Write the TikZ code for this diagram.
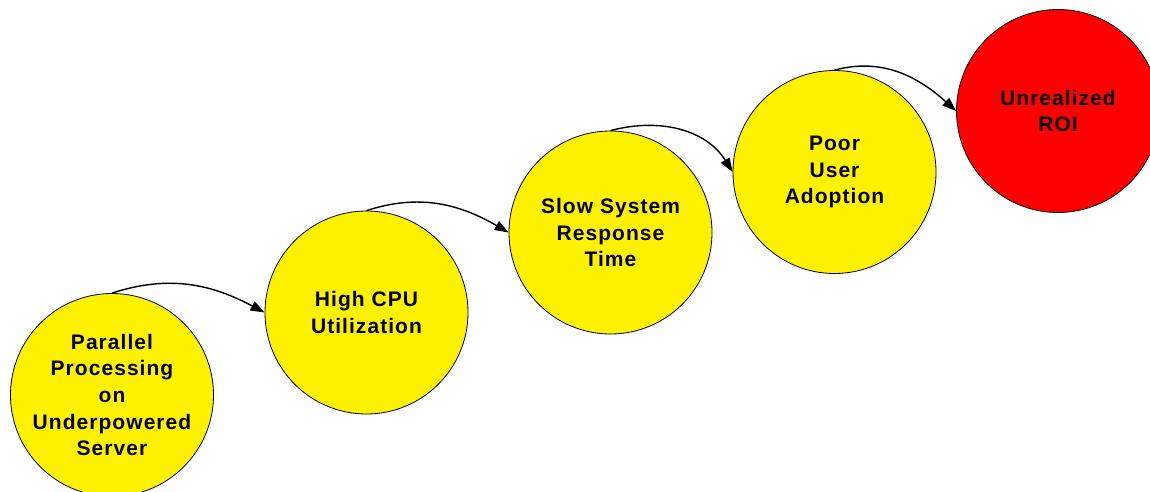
\documentclass[tikz,border=0pt]{standalone}
\usepackage{fontspec}
\setmainfont{Liberation Sans}[LetterSpace=5]
\usetikzlibrary{arrows.meta}

\begin{document}
\begin{tikzpicture}[x=1pt,y=1pt,
  stage/.style={circle, draw=black, line width=0.8pt, minimum size=203pt,
    inner sep=0pt, align=center,
    font=\fontsize{21}{26.7}\selectfont\bfseries},
  okstage/.style={stage, fill=yellow},
  endstage/.style={stage, fill=red},
  link/.style={line width=1.4pt, -{Triangle[length=14pt,width=10pt]}}
]
\useasboundingbox (0,0) rectangle (1150,491);

% chain of consequences, lower left to upper right
\node[okstage]  (c1) at (112,96)     {Parallel\\Processing\\on\\Underpowered\\Server};
\node[okstage]  (c2) at (366.5,178.5) {High CPU\\Utilization};
\node[okstage]  (c3) at (610.5,258.5) {Slow System\\Response\\Time};
\node[okstage]  (c4) at (834.5,319)   {Poor\\User\\Adoption};
\node[endstage] (c5) at (1058,380)    {Unrealized\\ROI};

% arcs from the top of each stage to the left side of the next
\draw[link] (c1.north) to[out=18,in=152] (c2.west);
\draw[link] (c2.north) to[out=18,in=150] (c3.west);
\draw[link] (c3.north) to[out=15,in=122] (c4.west);
\draw[link] (c4.north) to[out=15,in=138] (c5.west);
\end{tikzpicture}
\end{document}
